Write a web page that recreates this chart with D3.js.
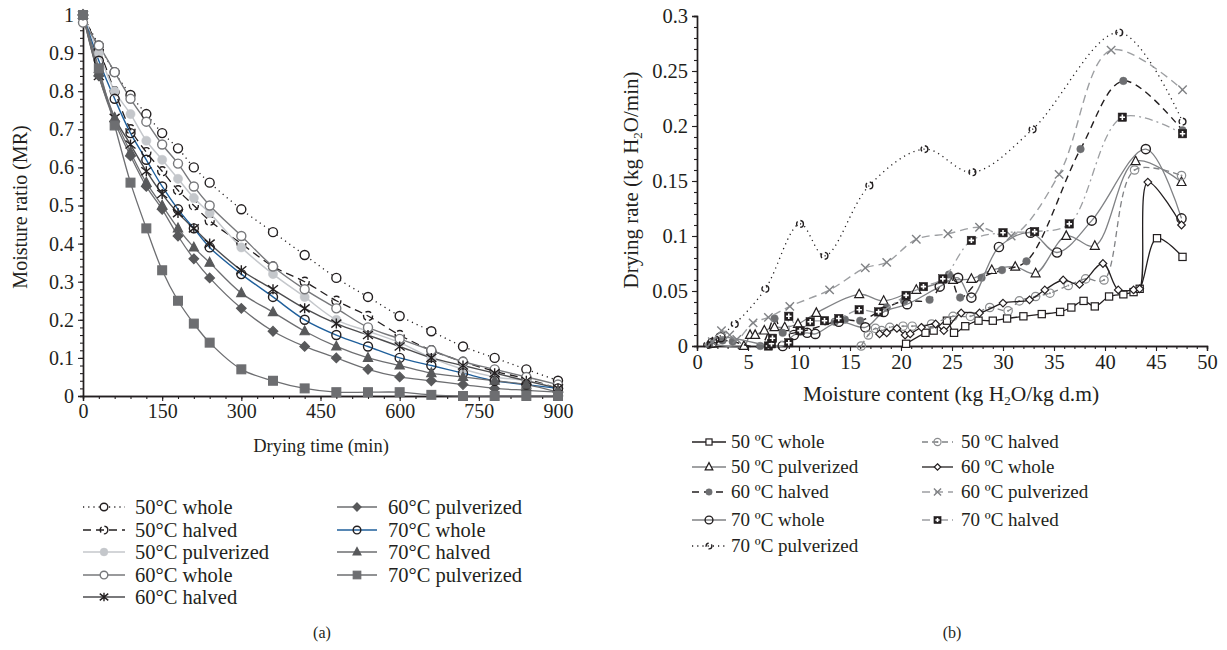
<!DOCTYPE html>
<html><head><meta charset="utf-8">
<script src="https://cdn.jsdelivr.net/npm/d3@7"></script>
<style>
body{margin:0;background:#fff}
svg{display:block}
text{font-family:"Liberation Serif","Times New Roman",serif;fill:#231f20}
</style>
</head><body>
<svg id="c" width="1227" height="650"></svg>
<script>
// ---------- Data: panel (a) Moisture ratio vs drying time ----------
const mrTimes = [0,30,60,90,120,150,180,210,240,300,360,420,480,540,600,660,720,780,840,900];
const mr50Whole  = [1,0.92,0.85,0.79,0.74,0.69,0.65,0.60,0.56,0.49,0.43,0.37,0.31,0.26,0.21,0.17,0.13,0.10,0.07,0.04];
const mr50Halved = [1,0.91,0.80,0.70,0.64,0.59,0.54,0.50,0.46,0.40,0.34,0.30,0.25,0.21,0.16,0.12,0.09,0.065,0.045,0.02];
const mr50Pulv   = [1,0.90,0.80,0.74,0.67,0.62,0.57,0.52,0.48,0.39,0.32,0.26,0.20,0.17,0.14,0.10,0.07,0.05,0.04,0.02];
const mr60Whole  = [0.98,0.92,0.85,0.78,0.72,0.66,0.61,0.55,0.50,0.42,0.34,0.28,0.23,0.18,0.15,0.12,0.09,0.07,0.05,0.03];
const mr60Halved = [1,0.84,0.73,0.66,0.59,0.53,0.48,0.44,0.40,0.33,0.28,0.23,0.19,0.16,0.13,0.10,0.08,0.06,0.04,0.02];
const mr60Pulv   = [1,0.84,0.72,0.63,0.55,0.49,0.42,0.36,0.31,0.23,0.17,0.13,0.10,0.07,0.05,0.04,0.03,0.02,0.015,0.01];
const mr70Whole  = [1,0.88,0.78,0.69,0.62,0.55,0.49,0.44,0.39,0.32,0.26,0.20,0.16,0.13,0.10,0.08,0.06,0.04,0.03,0.02];
const mr70Halved = [1,0.85,0.73,0.64,0.56,0.50,0.44,0.39,0.35,0.27,0.22,0.17,0.13,0.10,0.08,0.06,0.05,0.04,0.03,0.01];
const mr70Pulv   = [1,0.86,0.71,0.56,0.44,0.33,0.25,0.19,0.14,0.07,0.04,0.02,0.01,0.01,0.01,0.003,0,0,0,0];
const mrXTicks = [0,150,300,450,600,750,900];
const mrYTicks = [0,0.1,0.2,0.3,0.4,0.5,0.6,0.7,0.8,0.9,1];
const mrYTickLabels = ["0","0.1","0.2","0.3","0.4","0.5","0.6","0.7","0.8","0.9","1"];

// ---------- Data: panel (b) Drying rate vs moisture content ----------
const dr50Whole = [[20.5,0.002],[22.4,0.012],[23.2,0.014],[24.5,0.023],[25.2,0.012],[26.3,0.018],[27.6,0.023],[29.0,0.023],[30.4,0.025],[32.0,0.027],[33.8,0.029],[35.6,0.031],[36.7,0.035],[37.9,0.041],[39.0,0.036],[40.4,0.045],[41.8,0.047],[42.8,0.049],[43.4,0.052],[45.1,0.098],[47.6,0.081]];
const dr50Halved = [[16.1,0.0],[16.8,0.010],[17.5,0.016],[18.1,0.014],[18.9,0.017],[20.2,0.018],[21.1,0.018],[23.0,0.020],[25.1,0.027],[26.8,0.027],[28.7,0.035],[30.5,0.032],[31.6,0.041],[33.2,0.045],[34.6,0.048],[36.4,0.055],[38.1,0.061],[39.9,0.060],[42.9,0.160],[47.5,0.155]];
const dr50Pulv = [[1.5,0.002],[4.6,0.0],[5.2,0.010],[5.7,0.010],[6.6,0.014],[7.6,0.017],[8.6,0.017],[9.9,0.020],[11.7,0.030],[15.9,0.047],[18.3,0.041],[21.5,0.051],[25.1,0.060],[26.9,0.061],[28.9,0.069],[31.2,0.072],[33.2,0.066],[36.2,0.100],[39.0,0.091],[43.0,0.168],[47.5,0.149]];
const dr60Whole = [[17.9,0.011],[18.6,0.012],[19.6,0.016],[20.4,0.010],[20.9,0.011],[22.0,0.017],[23.4,0.020],[24.2,0.014],[25.9,0.030],[27.7,0.030],[30.0,0.039],[32.6,0.042],[34.1,0.051],[35.9,0.060],[37.5,0.056],[39.8,0.075],[41.3,0.051],[42.8,0.051],[43.4,0.052],[44.2,0.149],[47.5,0.110]];
const dr60Halved = [[1.2,0.001],[2.5,0.005],[3.5,0.004],[6.2,0.0],[7.6,0.025],[8.4,0.012],[10.1,0.013],[13.5,0.022],[14.5,0.024],[16.0,0.023],[18.6,0.035],[20.3,0.041],[22.8,0.042],[24.7,0.065],[25.8,0.044],[27.9,0.062],[29.9,0.069],[32.3,0.077],[37.6,0.179],[41.8,0.241],[47.6,0.196]];
const dr60Pulv = [[1.5,0.004],[2.4,0.014],[3.2,0.010],[3.9,0.006],[5.5,0.021],[7.0,0.026],[9.1,0.036],[13.0,0.051],[16.5,0.071],[18.6,0.076],[21.5,0.097],[24.6,0.102],[27.7,0.108],[30.8,0.100],[35.5,0.156],[40.6,0.269],[47.6,0.233]];
const dr70Whole = [[1.5,0.003],[2.3,0.008],[8.4,0.0],[9.5,0.010],[10.8,0.012],[11.6,0.011],[13.9,0.022],[16.5,0.017],[18.3,0.031],[20.6,0.038],[23.8,0.054],[25.6,0.062],[26.9,0.044],[29.6,0.090],[32.7,0.103],[35.3,0.085],[38.7,0.114],[44.0,0.179],[47.5,0.116]];
const dr70Halved = [[7.0,0.0],[7.3,0.002],[7.4,0.007],[9.0,0.003],[9.0,0.027],[10.1,0.014],[11.1,0.022],[12.5,0.023],[13.9,0.025],[15.9,0.033],[17.8,0.031],[20.5,0.046],[22.2,0.054],[24.1,0.061],[26.9,0.096],[30.0,0.103],[33.1,0.104],[36.5,0.111],[41.7,0.208],[47.6,0.193]];
const dr70Pulv = [[1.0,0.001],[1.8,0.006],[3.7,0.020],[6.7,0.052],[10.1,0.111],[12.5,0.082],[16.9,0.146],[22.3,0.179],[27.0,0.158],[32.9,0.197],[41.4,0.285],[47.6,0.204]];
const drXTicks = [0,5,10,15,20,25,30,35,40,45,50];
const drYTicks = [0,0.05,0.1,0.15,0.2,0.25,0.3];
const drYTickLabels = ["0","0.05","0.1","0.15","0.2","0.25","0.3"];

// ---------- Styles ----------
const leftSeries = [
  {name:"50°C whole", v:mr50Whole, stroke:"#231f20", dash:"1.2,4", w:1.3, m:"circle", mc:"#231f20", mf:"#fff", col:0, row:0},
  {name:"50°C halved", v:mr50Halved, stroke:"#231f20", dash:"8,5", w:1.3, m:"circleDash", mc:"#231f20", mf:"#fff", col:0, row:1},
  {name:"50°C pulverized", v:mr50Pulv, stroke:"#c4c7cb", dash:null, w:1.5, m:"circleF", mc:"#c4c7cb", mf:"#c4c7cb", col:0, row:2},
  {name:"60°C whole", v:mr60Whole, stroke:"#77787b", dash:null, w:1.4, m:"circle", mc:"#77787b", mf:"#fff", col:0, row:3},
  {name:"60°C halved", v:mr60Halved, stroke:"#4d4d4f", dash:null, w:1.4, m:"asterisk", mc:"#231f20", mf:"none", col:0, row:4},
  {name:"60°C pulverized", v:mr60Pulv, stroke:"#6d6e71", dash:null, w:1.3, m:"diamondF", mc:"#58595b", mf:"#58595b", col:1, row:0},
  {name:"70°C whole", v:mr70Whole, stroke:"#1f5f9b", dash:null, w:1.4, m:"circle", mc:"#231f20", mf:"none", col:1, row:1},
  {name:"70°C halved", v:mr70Halved, stroke:"#6d6e71", dash:null, w:1.3, m:"triangleF", mc:"#58595b", mf:"#58595b", col:1, row:2},
  {name:"70°C pulverized", v:mr70Pulv, stroke:"#6d6e71", dash:null, w:1.3, m:"squareF", mc:"#6d6e71", mf:"#6d6e71", col:1, row:3}
];
const rightSeries = [
  {name:"50 ºC whole", v:dr50Whole, stroke:"#231f20", dash:null, w:1.3, m:"square", mc:"#231f20", mf:"#fff", col:0, row:0},
  {name:"50 ºC pulverized", v:dr50Pulv, stroke:"#808285", dash:null, w:1.3, m:"triangle", mc:"#231f20", mf:"#fff", col:0, row:1},
  {name:"60 ºC halved", v:dr60Halved, stroke:"#231f20", dash:"7,5", w:1.4, m:"circleF", mc:"#6d6e71", mf:"#6d6e71", col:0, row:2},
  {name:"70 ºC whole", v:dr70Whole, stroke:"#808285", dash:null, w:1.3, m:"circle", mc:"#231f20", mf:"none", col:0, row:3},
  {name:"70 ºC pulverized", v:dr70Pulv, stroke:"#231f20", dash:"1.2,4", w:1.3, m:"circleGap", mc:"#231f20", mf:"none", col:0, row:4},
  {name:"50 ºC halved", v:dr50Halved, stroke:"#808285", dash:"6,4", w:1.3, m:"circleDot", mc:"#8a8c8e", mf:"none", col:1, row:0},
  {name:"60 ºC whole", v:dr60Whole, stroke:"#231f20", dash:null, w:1.3, m:"diamond", mc:"#231f20", mf:"#fff", col:1, row:1},
  {name:"60 ºC pulverized", v:dr60Pulv, stroke:"#9d9fa2", dash:"8,5", w:1.4, m:"cross", mc:"#808285", mf:"none", col:1, row:2},
  {name:"70 ºC halved", v:dr70Halved, stroke:"#9d9fa2", dash:"8,4,2,4", w:1.3, m:"squarePlus", mc:"#231f20", mf:"#231f20", col:1, row:3}
];

const svg = d3.select("#c");
const FS_TICK_L = 20, FS_TICK_R = 20.5, FS_LEG_L = 20.5, FS_LEG_R = 19;

function marker(g, type, x, y, col, fill, s) {
  const sw = 1.2;
  switch (type) {
    case "circle":
      g.append("circle").attr("cx",x).attr("cy",y).attr("r",s).attr("fill",fill==="none"?"#fff":fill).attr("fill-opacity",fill==="none"?0:1).attr("stroke",col).attr("stroke-width",sw+0.2); break;
    case "circleDash":
      g.append("circle").attr("cx",x).attr("cy",y).attr("r",s).attr("fill","none").attr("stroke",col).attr("stroke-width",sw+0.2).attr("stroke-dasharray","6,3"); break;
    case "circleGap":
      g.append("circle").attr("cx",x).attr("cy",y).attr("r",s).attr("fill","none").attr("stroke",col).attr("stroke-width",sw+0.2).attr("stroke-dasharray","5,3"); break;
    case "circleDot":
      g.append("circle").attr("cx",x).attr("cy",y).attr("r",s).attr("fill","none").attr("stroke",col).attr("stroke-width",sw);
      g.append("circle").attr("cx",x).attr("cy",y).attr("r",1).attr("fill",col); break;
    case "circleF":
      g.append("circle").attr("cx",x).attr("cy",y).attr("r",s).attr("fill",fill).attr("stroke",col).attr("stroke-width",0.5); break;
    case "square": case "squareF":
      g.append("rect").attr("x",x-s).attr("y",y-s).attr("width",2*s).attr("height",2*s).attr("fill",fill).attr("stroke",col).attr("stroke-width",sw); break;
    case "squarePlus":
      g.append("rect").attr("x",x-s).attr("y",y-s).attr("width",2*s).attr("height",2*s).attr("fill",col).attr("stroke",col).attr("stroke-width",0.5);
      g.append("path").attr("d",`M${x-s+1.5},${y}H${x+s-1.5}M${x},${y-s+1.5}V${y+s-1.5}`).attr("stroke","#fff").attr("stroke-width",1.6); break;
    case "diamond": case "diamondF":
      g.append("path").attr("d",`M${x},${y-s}L${x+s},${y}L${x},${y+s}L${x-s},${y}Z`).attr("fill",fill).attr("stroke",col).attr("stroke-width",sw); break;
    case "triangle": case "triangleF": {
      const h = s*1.9;
      g.append("path").attr("d",`M${x},${y-h*0.6}L${x+s},${y+h*0.4}L${x-s},${y+h*0.4}Z`).attr("fill",fill).attr("stroke",col).attr("stroke-width",sw); break; }
    case "cross":
      g.append("path").attr("d",`M${x-s},${y-s}L${x+s},${y+s}M${x-s},${y+s}L${x+s},${y-s}`).attr("stroke",col).attr("stroke-width",1.4); break;
    case "asterisk":
      g.append("path").attr("d",`M${x-s},${y-s*0.8}L${x+s},${y+s*0.8}M${x-s},${y+s*0.8}L${x+s},${y-s*0.8}M${x},${y-s}V${y+s}`).attr("stroke",col).attr("stroke-width",1.4); break;
  }
}

function sizeFor(type, side) {
  const L = {circle:4.5,circleDash:4.5,circleF:4.6,asterisk:5,diamondF:4.8,triangleF:4.6,squareF:4.4};
  const R = {square:3.6,triangle:4.5,circleF:3.8,circle:4.6,circleGap:3.4,circleDot:4.2,diamond:3.8,cross:4.2,squarePlus:4.2};
  return side==="L" ? L[type] : R[type];
}

function styleAxis(fs) {
  return gAxis => {
    gAxis.selectAll("text").attr("font-family","'Liberation Serif',serif").attr("font-size",fs).attr("fill","#231f20");
    gAxis.select(".domain").attr("stroke","#231f20").attr("stroke-width",1.4);
    gAxis.selectAll(".tick line").attr("stroke","#231f20").attr("stroke-width",1.1);
  };
}

// ================= Panel (a) =================
const xL = d3.scaleLinear().domain([0,900]).range([83,558]);
const yL = d3.scaleLinear().domain([0,1]).range([396,15]);

svg.append("g").attr("transform","translate(0,396)").call(d3.axisBottom(xL).tickValues(d3.range(0,901,30)).tickSize(3).tickFormat("")).call(styleAxis(FS_TICK_L));
svg.append("g").attr("transform","translate(83,0)").call(d3.axisLeft(yL).tickValues(d3.range(0,1.0001,0.02)).tickSize(3).tickFormat("")).call(styleAxis(FS_TICK_L));
svg.append("g").attr("transform","translate(0,396)").call(d3.axisBottom(xL).tickValues(mrXTicks).tickSize(5).tickPadding(3).tickFormat(d3.format("d"))).call(styleAxis(FS_TICK_L));
svg.append("g").attr("transform","translate(83,0)").call(d3.axisLeft(yL).tickValues(mrYTicks).tickSize(5).tickPadding(4).tickFormat((d,i)=>mrYTickLabels[i])).call(styleAxis(FS_TICK_L));

svg.append("text").attr("x",321).attr("y",452).attr("text-anchor","middle").attr("font-size",18.5).text("Drying time (min)");
svg.append("text").attr("transform","translate(27,207) rotate(-90)").attr("text-anchor","middle").attr("font-size",20).text("Moisture ratio (MR)");

const lineL = d3.line().x((d,i)=>xL(mrTimes[i])).y(d=>yL(d)).curve(d3.curveCatmullRom.alpha(0.5));
const gL = svg.append("g");
leftSeries.forEach(s => {
  gL.append("path").attr("d",lineL(s.v)).attr("fill","none").attr("stroke",s.stroke).attr("stroke-width",s.w).attr("stroke-dasharray",s.dash);
});
leftSeries.forEach(s => {
  const g = gL.append("g");
  s.v.forEach((d,i)=>marker(g, s.m, xL(mrTimes[i]), yL(d), s.mc, s.mf, sizeFor(s.m,"L")));
});

// legend (a)
const legL = svg.append("g");
const legLCols = [{x1:83,x2:125,tx:135},{x1:337,x2:377,tx:388}];
const legLRows = [507,530,552,575,597];
leftSeries.forEach(s => {
  const c = legLCols[s.col], y = legLRows[s.row];
  legL.append("line").attr("x1",c.x1).attr("x2",c.x2).attr("y1",y).attr("y2",y).attr("stroke",s.stroke).attr("stroke-width",s.w).attr("stroke-dasharray",s.dash);
  marker(legL, s.m, (c.x1+c.x2)/2, y, s.mc, s.mf, sizeFor(s.m,"L")*0.85);
  legL.append("text").attr("x",c.tx).attr("y",y+6.5).attr("font-size",FS_LEG_L).text(s.name);
});
svg.append("text").attr("x",322).attr("y",638).attr("text-anchor","middle").attr("font-size",16).text("(a)");

// ================= Panel (b) =================
const xR = d3.scaleLinear().domain([0,50]).range([697,1207]);
const yR = d3.scaleLinear().domain([0,0.3]).range([346,16]);

svg.append("g").attr("transform","translate(0,346)").call(d3.axisBottom(xR).tickValues(d3.range(0,50.001,1)).tickSize(3).tickFormat("")).call(styleAxis(FS_TICK_R));
svg.append("g").attr("transform","translate(697,0)").call(d3.axisLeft(yR).tickValues(d3.range(0,0.30001,0.01)).tickSize(3).tickFormat("")).call(styleAxis(FS_TICK_R));
svg.append("g").attr("transform","translate(0,346)").call(d3.axisBottom(xR).tickValues(drXTicks).tickSize(5).tickPadding(3).tickFormat(d3.format("d"))).call(styleAxis(FS_TICK_R));
svg.append("g").attr("transform","translate(697,0)").call(d3.axisLeft(yR).tickValues(drYTicks).tickSize(5).tickPadding(4).tickFormat((d,i)=>drYTickLabels[i])).call(styleAxis(FS_TICK_R));

const xt = svg.append("text").attr("x",951).attr("y",401).attr("text-anchor","middle").attr("font-size",21.5);
xt.append("tspan").text("Moisture content (kg H");
xt.append("tspan").attr("dy",4).attr("font-size",13).text("2");
xt.append("tspan").attr("dy",-4).text("O/kg d.m)");
const yt = svg.append("text").attr("transform","translate(638,180) rotate(-90)").attr("text-anchor","middle").attr("font-size",21);
yt.append("tspan").text("Drying rate (kg H");
yt.append("tspan").attr("dy",4).attr("font-size",13).text("2");
yt.append("tspan").attr("dy",-4).text("O/min)");

const lineR = d3.line().x(d=>xR(d[0])).y(d=>yR(d[1])).curve(d3.curveCatmullRom.alpha(0.5));
const gR = svg.append("g");
rightSeries.forEach(s => {
  gR.append("path").attr("d",lineR(s.v)).attr("fill","none").attr("stroke",s.stroke).attr("stroke-width",s.w).attr("stroke-dasharray",s.dash);
  const g = gR.append("g");
  s.v.forEach(d=>marker(g, s.m, xR(d[0]), yR(d[1]), s.mc, s.mf, sizeFor(s.m,"R")));
});

// legend (b)
const legR = svg.append("g");
const legRCols = [{x1:692,x2:726,tx:731},{x1:922,x2:953,tx:961}];
const legRRows = [442,467,492,520,546];
rightSeries.forEach(s => {
  const c = legRCols[s.col], y = legRRows[s.row];
  legR.append("line").attr("x1",c.x1).attr("x2",c.x2).attr("y1",y).attr("y2",y).attr("stroke",s.stroke).attr("stroke-width",s.w).attr("stroke-dasharray",s.dash);
  marker(legR, s.m, (c.x1+c.x2)/2, y, s.mc, s.mf, sizeFor(s.m,"R")*0.85);
  legR.append("text").attr("x",c.tx).attr("y",y+6).attr("font-size",FS_LEG_R).text(s.name);
});
svg.append("text").attr("x",952).attr("y",638).attr("text-anchor","middle").attr("font-size",16).text("(b)");
</script>
</body></html>
